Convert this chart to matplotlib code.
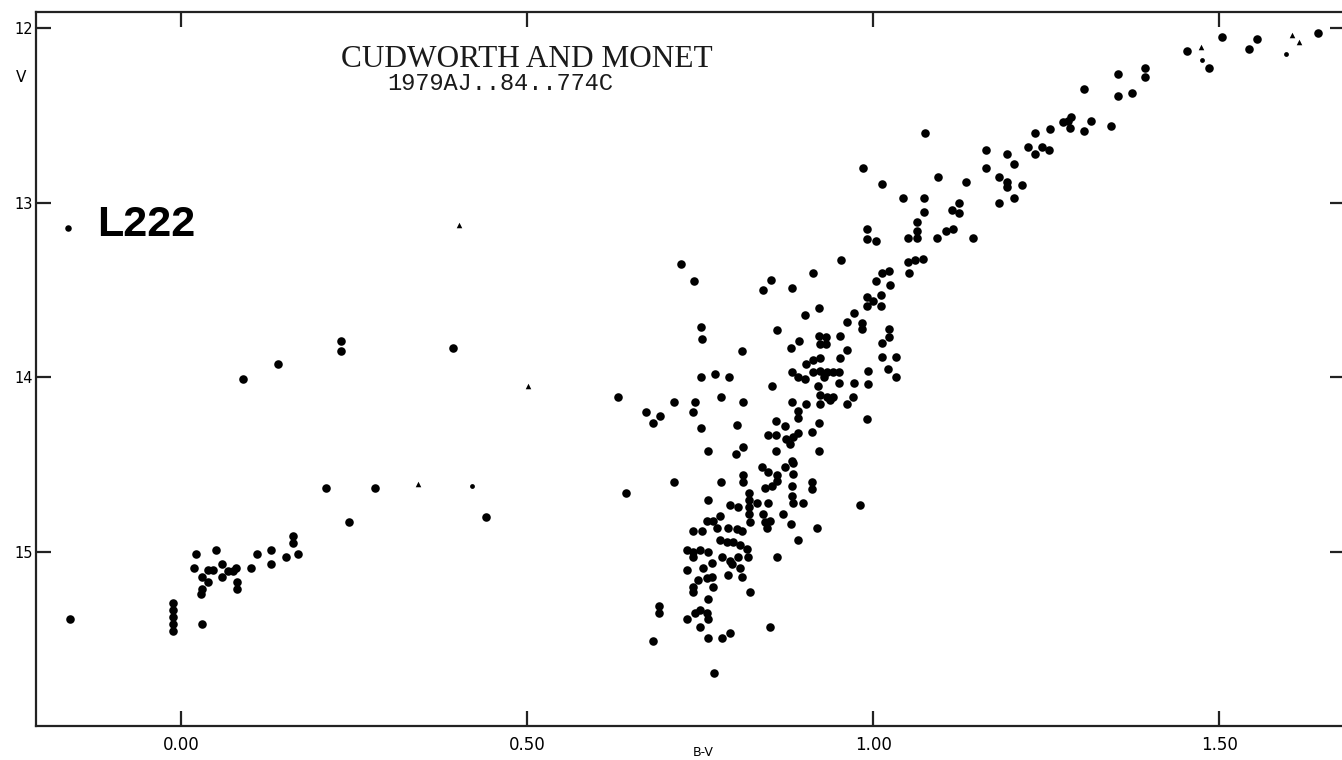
import numpy as np
import matplotlib.pyplot as plt

# (B-V, V)
hb_stars = [
    (-0.160, 15.38), (-0.012, 15.29), (-0.012, 15.33), (-0.012, 15.37), (-0.012, 15.41),
    (-0.012, 15.45), (0.022, 15.01), (0.051, 14.99), (0.019, 15.09), (0.030, 15.14),
    (0.039, 15.10), (0.039, 15.17), (0.030, 15.21), (0.029, 15.24), (0.046, 15.10),
    (0.059, 15.07), (0.059, 15.14), (0.068, 15.11), (0.079, 15.09), (0.075, 15.11),
    (0.081, 15.17), (0.081, 15.21), (0.030, 15.41), (0.101, 15.09), (0.110, 15.01),
    (0.130, 14.99), (0.130, 15.07), (0.152, 15.03), (0.162, 14.91), (0.162, 14.95),
    (0.169, 15.01), (0.243, 14.83), (0.090, 14.01), (0.140, 13.92), (0.231, 13.79),
    (0.231, 13.85), (0.393, 13.83), (0.210, 14.63), (0.280, 14.63), (0.441, 14.80),
    (0.643, 14.66), (0.631, 14.11), (0.672, 14.20), (0.692, 14.22), (0.682, 14.26),
]

sgb_stars = [
    (0.723, 13.35), (0.741, 13.45), (0.751, 13.71), (0.753, 13.78), (0.811, 13.85),
    (0.853, 13.44), (0.841, 13.50), (0.883, 13.49), (0.913, 13.40), (0.954, 13.33),
    (0.902, 13.64), (0.922, 13.60), (0.861, 13.73), (0.893, 13.79), (0.881, 13.83),
    (0.922, 13.76), (0.932, 13.77), (0.923, 13.81), (0.932, 13.81), (0.952, 13.76),
    (0.962, 13.84), (0.952, 13.89), (0.973, 13.63), (0.962, 13.68), (0.984, 13.69),
    (0.984, 13.72), (0.973, 14.03), (0.971, 14.11), (0.962, 14.15), (0.991, 14.24),
    (0.903, 13.92), (0.913, 13.90), (0.923, 13.89), (0.883, 13.97), (0.892, 14.00),
    (0.902, 14.01), (0.913, 13.97), (0.923, 13.96), (0.933, 13.97), (0.942, 13.97),
    (0.951, 13.97), (0.951, 14.03), (0.929, 14.00), (0.920, 14.05), (0.854, 14.05),
    (0.751, 14.00), (0.772, 13.98), (0.792, 14.00), (0.712, 14.14), (0.743, 14.14),
    (0.780, 14.11), (0.812, 14.14), (0.740, 14.20), (0.751, 14.29), (0.803, 14.27),
    (0.762, 14.42), (0.802, 14.44), (0.812, 14.40), (0.883, 14.14), (0.903, 14.15),
    (0.923, 14.10), (0.933, 14.11), (0.942, 14.11), (0.923, 14.15), (0.938, 14.13),
    (0.892, 14.19), (0.892, 14.23), (0.860, 14.25), (0.873, 14.28), (0.922, 14.26),
    (0.912, 14.31), (0.848, 14.33), (0.860, 14.33), (0.874, 14.35), (0.884, 14.34),
    (0.892, 14.32), (0.880, 14.38), (0.860, 14.42), (0.883, 14.48), (0.922, 14.42),
]

ms_stars = [
    (0.840, 14.51), (0.873, 14.51), (0.884, 14.49), (0.712, 14.60), (0.780, 14.60),
    (0.812, 14.56), (0.812, 14.60), (0.848, 14.54), (0.861, 14.56), (0.861, 14.59),
    (0.884, 14.55), (0.883, 14.62), (0.844, 14.63), (0.854, 14.62), (0.912, 14.60),
    (0.912, 14.64), (0.762, 14.70), (0.821, 14.66), (0.821, 14.70), (0.821, 14.74),
    (0.821, 14.78), (0.793, 14.73), (0.805, 14.74), (0.832, 14.72), (0.848, 14.72),
    (0.883, 14.68), (0.884, 14.72), (0.899, 14.72), (0.981, 14.73), (0.870, 14.78),
    (0.822, 14.83), (0.841, 14.78), (0.844, 14.83), (0.847, 14.86), (0.851, 14.82),
    (0.779, 14.79), (0.769, 14.82), (0.760, 14.82), (0.775, 14.86), (0.790, 14.86),
    (0.803, 14.87), (0.811, 14.88), (0.881, 14.84), (0.919, 14.86), (0.740, 14.88),
    (0.753, 14.88), (0.892, 14.93), (0.779, 14.93), (0.789, 14.94), (0.798, 14.94),
    (0.808, 14.96), (0.818, 14.98), (0.731, 14.99), (0.740, 15.00), (0.750, 14.99),
    (0.762, 15.00), (0.740, 15.03), (0.782, 15.03), (0.793, 15.05), (0.805, 15.03),
    (0.819, 15.03), (0.796, 15.07), (0.808, 15.09), (0.861, 15.03), (0.731, 15.10),
    (0.754, 15.09), (0.767, 15.06), (0.790, 15.13), (0.811, 15.14), (0.740, 15.20),
    (0.747, 15.16), (0.760, 15.15), (0.767, 15.14), (0.769, 15.20), (0.740, 15.23),
    (0.762, 15.27), (0.822, 15.23), (0.691, 15.31), (0.691, 15.35), (0.731, 15.38),
    (0.743, 15.35), (0.750, 15.33), (0.760, 15.35), (0.762, 15.38), (0.750, 15.43),
    (0.762, 15.49), (0.782, 15.49), (0.793, 15.46), (0.851, 15.43), (0.682, 15.51),
    (0.770, 15.69),
]

rgb_stars = [
    (1.075, 12.60), (0.986, 12.80), (1.013, 12.89), (1.094, 12.85), (1.134, 12.88),
    (1.163, 12.70), (1.163, 12.80), (1.194, 12.72), (1.204, 12.78), (1.182, 12.85),
    (1.194, 12.88), (1.194, 12.91), (1.215, 12.90), (1.204, 12.97), (1.182, 13.00),
    (1.234, 12.60), (1.256, 12.58), (1.224, 12.68), (1.234, 12.72), (1.244, 12.68),
    (1.254, 12.70), (1.043, 12.97), (1.074, 12.97), (1.074, 13.05), (1.114, 13.04),
    (1.124, 13.00), (1.124, 13.06), (1.064, 13.11), (1.064, 13.16), (1.064, 13.20),
    (1.051, 13.20), (1.092, 13.20), (1.105, 13.16), (1.116, 13.15), (1.145, 13.20),
    (0.991, 13.15), (0.991, 13.21), (1.004, 13.22), (1.051, 13.34), (1.061, 13.33),
    (1.072, 13.32), (1.052, 13.40), (1.013, 13.40), (1.023, 13.39), (1.004, 13.45),
    (1.025, 13.47), (0.991, 13.54), (1.000, 13.56), (1.012, 13.53), (0.991, 13.59),
    (1.012, 13.59), (1.023, 13.72), (1.023, 13.77), (1.013, 13.80), (1.013, 13.88),
    (1.033, 13.88), (0.993, 13.96), (0.993, 14.04), (1.022, 13.95), (1.033, 14.00),
    (1.504, 12.05), (1.454, 12.13), (1.486, 12.23), (1.543, 12.12), (1.555, 12.06),
    (1.643, 12.03), (1.354, 12.26), (1.393, 12.23), (1.393, 12.28), (1.354, 12.39),
    (1.374, 12.37), (1.305, 12.35), (1.275, 12.54), (1.282, 12.53), (1.286, 12.51),
    (1.285, 12.57), (1.315, 12.53), (1.305, 12.59), (1.344, 12.56),
]

# smaller plotted symbols
faint_stars = [(0.420, 14.62), (1.475, 12.18), (1.597, 12.15)]
tri_stars = [(0.402, 13.13), (0.501, 14.05), (0.342, 14.61),
             (1.474, 12.11), (1.605, 12.04), (1.616, 12.08)]

l222 = (-0.163, 13.145)

x_ticks = [0.0, 0.5, 1.0, 1.5]
x_labels = ['0.00', '0.50', '1.00', '1.50']
y_ticks = [12, 13, 14, 15]

fig = plt.figure(figsize=(13.42, 7.6), dpi=100)
# right spine sits just past the edge of the scan
ax = fig.add_axes([0.0268, 0.0447, 0.9755, 0.9395])

dots = np.array(hb_stars + sgb_stars + ms_stars + rgb_stars)
ax.scatter(dots[:, 0], dots[:, 1], s=38, c='black', linewidths=0)
faint = np.array(faint_stars)
ax.scatter(faint[:, 0], faint[:, 1], s=12, c='black', linewidths=0)
tri = np.array(tri_stars)
ax.scatter(tri[:, 0], tri[:, 1], s=16, c='black', marker='^', linewidths=0)

# cluster label
ax.scatter([l222[0]], [l222[1]], s=22, c='black', linewidths=0)
ax.text(-0.121, 13.13, 'L222', fontsize=31, fontweight='bold',
        family='Liberation Sans', va='center', ha='left')

ax.text(0.500, 12.18, 'CUDWORTH AND MONET', fontsize=22.5,
        family='Liberation Serif', ha='center', va='center', color='#1a1a1a')
ax.text(0.462, 12.315, '1979AJ..84..774C', fontsize=17,
        family='Liberation Mono', ha='center', va='center', color='#1a1a1a')

# Formatting
ax.set_xlim(-0.2095, 1.682)
ax.set_ylim(15.995, 11.908)
ax.set_xticks(x_ticks)
ax.set_xticklabels(x_labels)
ax.set_yticks(y_ticks)
ax.tick_params(axis='both', direction='in', length=11, width=1.6,
               top=True, right=True, color='#222222')
ax.tick_params(axis='x', labelsize=12, pad=7)
ax.tick_params(axis='y', labelsize=10.5, pad=2)
for sp in ax.spines.values():
    sp.set_linewidth(1.6)
    sp.set_color('#222222')

fig.text(21 / 1342, 1 - 78 / 760, 'V', fontsize=11, ha='center', va='center')
fig.text(703 / 1342, 7 / 760, 'B-V', fontsize=9, ha='center', va='center')

fig.savefig('out.png', dpi=100)
